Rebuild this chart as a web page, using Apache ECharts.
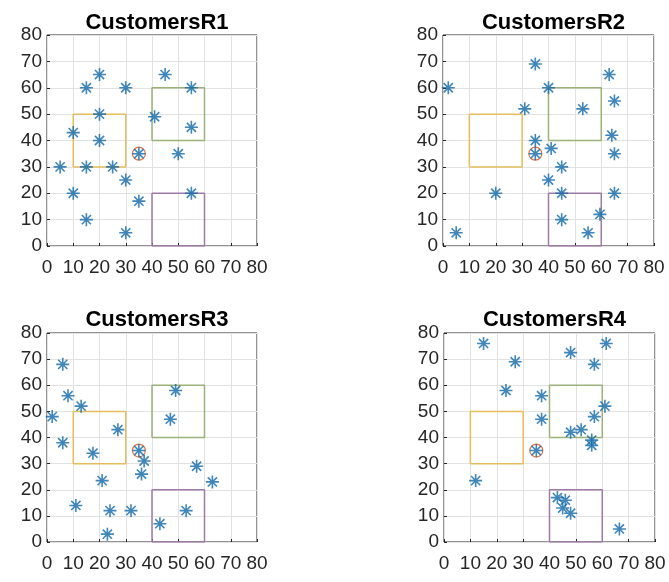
<!DOCTYPE html>
<html>
<head>
<meta charset="utf-8">
<script src="https://cdn.jsdelivr.net/npm/echarts@6/dist/echarts.min.js"></script>
<style>
html,body{margin:0;padding:0;background:#fff;}
#chart{width:669px;height:582px;}
</style>
</head>
<body>
<div id="chart"></div>
<script>
// ---- data ----
var titles = ['CustomersR1', 'CustomersR2', 'CustomersR3', 'CustomersR4'];
var axisTicks = [0, 10, 20, 30, 40, 50, 60, 70, 80];
var center = [35, 35];

var customersR1 = [[20,65],[15,60],[30,60],[45,65],[55,60],[20,50],[41,49],[55,45],[10,43],[20,40],
  [35,35],[50,35],[5,30],[15,30],[25,30],[30,25],[35,17],[10,20],[55,20],[15,10],[30,5]];
var customersR2 = [[2,60],[5,5],[20,20],[31,52],[35,69],[35,40],[35,35],[40,60],[41,37],[40,25],
  [45,30],[45,20],[45,10],[53,52],[55,5],[59.5,12],[63,65],[65,55],[64,42],[65,35],[65,20]];
var customersR3 = [[6,68],[8,56],[13,52],[2,48],[6,38],[27,43],[17.5,34],[35,35],[37,31],[36,26],
  [21,23.5],[11,14],[24,12],[32,12],[23,3],[49,58],[47,47],[57,29],[63,23],[53,12],[43,7]];
var customersR4 = [[15,76],[27,69],[23.5,58],[12,23.5],[37,56],[37,47],[35,35],[48,72.5],[57,68],[61.5,76],
  [61,52],[57,48],[52,43],[48,42],[56,39],[56,37],[43,17],[46,16],[45,13],[48,11],[66.5,5]];
var allCustomers = [customersR1, customersR2, customersR3, customersR4];

// rectangles as [xmin, ymin, xmax, ymax]
var rectYellow = [10, 30, 30, 50];
var rectGreen = [40, 40, 60, 60];
var rectPurple = [40, 0, 60, 20];

// ---- layout ----
var grids = [
  {left: 47, top: 35, width: 210, height: 211},
  {left: 443, top: 35, width: 211, height: 211},
  {left: 47, top: 333, width: 210, height: 209},
  {left: 444, top: 333, width: 211, height: 209}
];
var titleTops = [7, 7, 304, 304];

var starPath = 'path://M0,-10L0,10M-10,0L10,0M-7.07,-7.07L7.07,7.07M-7.07,7.07L7.07,-7.07';
var textColor = '#262626';
var font = 'Liberation Sans, Arial, Helvetica, sans-serif';

function rectPoints(r) {
  return [[r[0], r[1]], [r[2], r[1]], [r[2], r[3]], [r[0], r[3]], [r[0], r[1]]];
}

var option = {
  animation: false,
  backgroundColor: '#fff',
  title: [], grid: [], xAxis: [], yAxis: [], series: []
};

for (var i = 0; i < 4; i++) {
  var g = grids[i];
  option.grid.push({left: g.left, top: g.top, width: g.width, height: g.height,
    show: true, borderColor: '#262626', borderWidth: 1, backgroundColor: '#fff', containLabel: false});
  option.title.push({text: titles[i], left: g.left + g.width / 2, top: titleTops[i], textAlign: 'center',
    textStyle: {fontFamily: font, fontSize: 22, fontWeight: 'bold', color: '#000'}});
  var axisCommon = {
    gridIndex: i, type: 'value', min: axisTicks[0], max: axisTicks[axisTicks.length - 1], interval: 10,
    axisLine: {show: false},
    axisTick: {show: true, inside: true, length: 3, lineStyle: {color: '#262626'}},
    splitLine: {show: true, lineStyle: {color: '#e2e2e2', width: 1}},
    axisLabel: {color: textColor, fontFamily: font, fontSize: 19, showMinLabel: true, showMaxLabel: true, hideOverlap: false}
  };
  var xa = JSON.parse(JSON.stringify(axisCommon));
  xa.axisLabel.margin = 12;
  xa.axisLabel.interval = 0;
  var ya = JSON.parse(JSON.stringify(axisCommon));
  ya.axisLabel.margin = 5;
  option.xAxis.push(xa);
  option.yAxis.push(ya);

  var rects = [[rectYellow, '#E6BD5E'], [rectGreen, '#9DB27A'], [rectPurple, '#9E7AA6']];
  rects.forEach(function (rc) {
    option.series.push({type: 'line', xAxisIndex: i, yAxisIndex: i, data: rectPoints(rc[0]),
      symbol: 'none', lineStyle: {color: rc[1], width: 1.5}, silent: true, z: 2});
  });

  option.series.push({type: 'scatter', xAxisIndex: i, yAxisIndex: i, data: [center],
    symbol: 'circle', symbolSize: 13,
    itemStyle: {color: 'rgba(0,0,0,0)', borderColor: '#D95319', borderWidth: 1.2}, z: 3});

  option.series.push({type: 'scatter', xAxisIndex: i, yAxisIndex: i, data: allCustomers[i],
    symbol: starPath, symbolSize: 13,
    itemStyle: {color: 'none', borderColor: '#1068a8', borderWidth: 1.6}, z: 4});
}

var chart = echarts.init(document.getElementById('chart'), null, {renderer: 'canvas'});
chart.setOption(option);
</script>
</body>
</html>
